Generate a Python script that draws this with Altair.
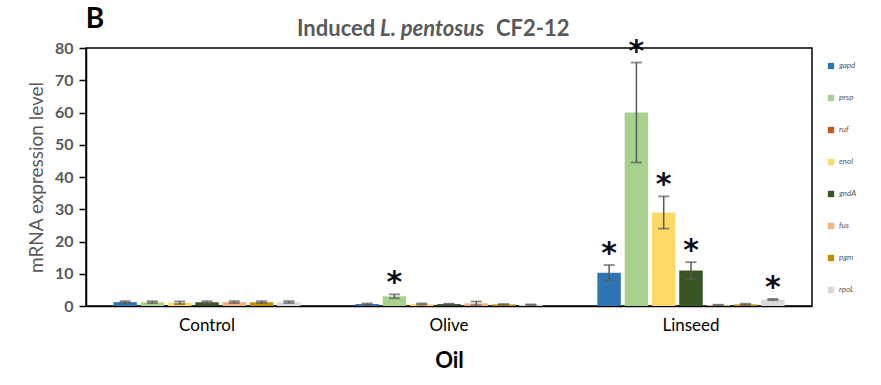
import altair as alt
import pandas as pd

groups = ["Control", "Olive", "Linseed"]
genes = ["gapd", "prsp", "enol", "gndA", "fus", "pgm", "rpoL"]
legend_genes = ["gapd", "prsp", "ruf", "enol", "gndA", "fus", "pgm", "rpoL"]
legend_colors = ["#2E75B6", "#A9D18E", "#C55A11", "#FFD966", "#375623", "#F4B183", "#BF9000", "#D9D9D9"]
y_ticks = [0, 10, 20, 30, 40, 50, 60, 70, 80]

control_mean = [1.2, 1.2, 1.0, 1.2, 1.2, 1.2, 1.2]
control_err = [0.3, 0.3, 0.4, 0.3, 0.3, 0.3, 0.3]
olive_mean = [0.6, 3.0, 0.6, 0.6, 0.8, 0.5, 0.4]
olive_err = [0.2, 0.6, 0.2, 0.1, 0.6, 0.1, 0.1]
linseed_mean = [10.3, 60.0, 29.0, 11.0, 0.3, 0.5, 2.0]
linseed_err = [2.4, 15.5, 5.0, 2.6, 0.1, 0.2, 0.2]
control_sig = [0, 0, 0, 0, 0, 0, 0]
olive_sig = [0, 1, 0, 0, 0, 0, 0]
linseed_sig = [1, 1, 1, 1, 0, 0, 1]

rows = []
for g, means, errs, sigs in [
    ("Control", control_mean, control_err, control_sig),
    ("Olive", olive_mean, olive_err, olive_sig),
    ("Linseed", linseed_mean, linseed_err, linseed_sig),
]:
    for gene, m, e, s in zip(genes, means, errs, sigs):
        rows.append({"oil": g, "gene": gene, "mean": m, "err": e, "sig": s})
df = pd.DataFrame(rows)

FONT = "Lato"
GREY = "#595959"

xenc = alt.X(
    "oil:N", sort=groups,
    scale=alt.Scale(paddingInner=0.215, paddingOuter=0.1075),
    axis=alt.Axis(title="Oil", labelAngle=0, ticks=False, labelFontSize=17, labelColor="black",
                  labelFont=FONT, labelPadding=11, titleFont=FONT, titleFontSize=22,
                  titleFontWeight="bold", titleColor="black", titlePadding=17,
                  domainColor="black", domainWidth=1.5),
)
xoff = alt.XOffset("gene:N", sort=genes,
                   scale=alt.Scale(domain=genes, paddingInner=0.14, paddingOuter=0.05))

yscale = alt.Scale(domain=[0, 80])
yaxis = alt.Axis(title="mRNA expression level", values=y_ticks, grid=False,
                 labelOverlap=False,
                 labelFont=FONT, labelFontSize=16, labelFontWeight="bold", labelColor=GREY,
                 titleFont=FONT, titleFontSize=19, titleFontWeight="normal", titleColor=GREY,
                 titlePadding=8, domainColor="black", domainWidth=1.5,
                 tickColor="black", tickSize=7, tickWidth=1.5, labelPadding=6)

base = alt.Chart(df).transform_calculate(
    lo="datum.mean - datum.err", hi="datum.mean + datum.err"
).encode(x=xenc, xOffset=xoff)

bars = base.mark_bar().encode(
    y=alt.Y("mean:Q", scale=yscale, axis=yaxis),
    color=alt.Color("gene:N", scale=alt.Scale(domain=legend_genes, range=legend_colors),
                    legend=alt.Legend(title=None, orient="none", legendX=741, legendY=14,
                                      symbolType="square", symbolSize=40, symbolStrokeWidth=0,
                                      labelFont=FONT, labelFontSize=8, labelFontStyle="italic",
                                      labelColor=GREY, rowPadding=24, labelOffset=4)),
)

rule = base.mark_rule(color=GREY, strokeWidth=1.5).encode(
    y=alt.Y("lo:Q", scale=yscale, axis=yaxis), y2="hi:Q")
cap_lo = base.mark_tick(color=GREY, thickness=1.8, size=11).encode(
    y=alt.Y("lo:Q", scale=yscale, axis=yaxis))
cap_hi = base.mark_tick(color=GREY, thickness=1.8, size=11).encode(
    y=alt.Y("hi:Q", scale=yscale, axis=yaxis))

stars = base.transform_filter("datum.sig == 1").mark_text(
    text="*", font="DejaVu Sans", fontWeight="bold", fontSize=30, color="#0d0d1a",
    baseline="alphabetic", dy=-2,
).encode(y=alt.Y("hi:Q", scale=yscale, axis=yaxis))

tdf = pd.DataFrame({"a": [0]})
t1 = alt.Chart(tdf).mark_text(text="Induced", align="left", baseline="middle", font=FONT,
                              fontSize=22, fontWeight="bold", color=GREY).encode(
    x=alt.value(211), y=alt.value(-19))
t2 = alt.Chart(tdf).mark_text(text="L. pentosus", align="left", baseline="middle", font=FONT,
                              fontSize=22, fontWeight="bold", fontStyle="italic", color=GREY).encode(
    x=alt.value(294), y=alt.value(-19))
t3 = alt.Chart(tdf).mark_text(text="CF2-12", align="left", baseline="middle", font=FONT,
                              fontSize=22, fontWeight="bold", color=GREY).encode(
    x=alt.value(410), y=alt.value(-19))
tb = alt.Chart(tdf).mark_text(text="B", align="center", baseline="middle", font=FONT,
                              fontSize=28, fontWeight="bold", color="black").encode(
    x=alt.value(9), y=alt.value(-28))

chart = alt.layer(bars, rule, cap_lo, cap_hi, stars, t1, t2, t3, tb).properties(
    width=726, height=258,
    background="white",
    autosize=alt.AutoSizeParams(type="none"),
    padding={"left": 86, "top": 48, "right": 69, "bottom": 79},
).configure_view(stroke="black", strokeWidth=1.5)

chart.save("out.html", embed_options={"renderer": "svg", "actions": False})
